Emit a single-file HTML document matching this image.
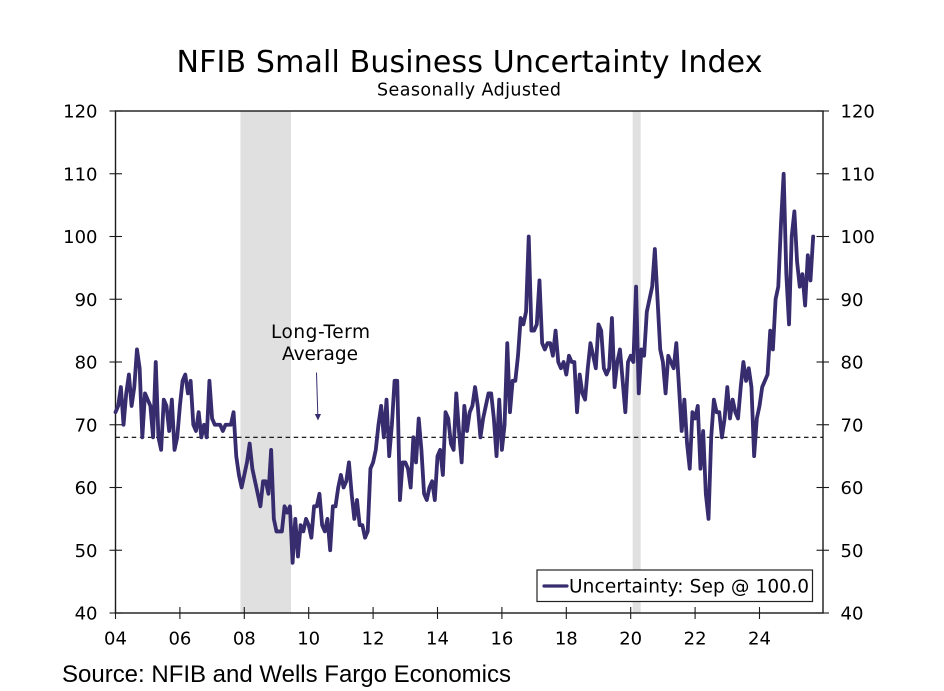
<!DOCTYPE html>
<html lang="en">
<head>
<meta charset="utf-8">
<title>NFIB Small Business Uncertainty Index</title>
<style>
html,body{margin:0;padding:0;background:#fff;}
svg{display:block;}
text{font-family:"DejaVu Sans","Liberation Sans",sans-serif;fill:#000;}
</style>
</head>
<body>
<svg id="chart" width="944" height="691" viewBox="0 0 944 691" xmlns="http://www.w3.org/2000/svg">
  <rect x="0" y="0" width="944" height="691" fill="#fff"/>
  <text x="469.5" y="72" text-anchor="middle" font-size="30" textLength="586" lengthAdjust="spacing">NFIB Small Business Uncertainty Index</text>
  <text x="469" y="95.5" text-anchor="middle" font-size="17.5" textLength="184" lengthAdjust="spacing">Seasonally Adjusted</text>
  <g id="recessions"></g>
  <g id="avg"></g>
  <g id="axes"></g>
  <path id="series" fill="none" stroke="#362c6e" stroke-width="3.8" stroke-linejoin="round" stroke-linecap="round"></path>
  <text x="320.5" y="338" text-anchor="middle" font-size="18.5" textLength="99" lengthAdjust="spacing">Long-Term</text>
  <text x="320" y="360" text-anchor="middle" font-size="18.5" textLength="76" lengthAdjust="spacing">Average</text>
  <line x1="316.5" y1="372.5" x2="317.8" y2="415" stroke="#362c6e" stroke-width="1"/>
  <polygon points="314.8,414 321,414 318,420.5" fill="#362c6e"/>
  <g>
    <rect x="537" y="570" width="275.5" height="31.5" fill="#fff" stroke="#222" stroke-width="1.2"/>
    <line x1="544" y1="586" x2="567" y2="586" stroke="#362c6e" stroke-width="3.2" stroke-linecap="round"/>
    <text x="569" y="592.5" font-size="18.5" textLength="240" lengthAdjust="spacing">Uncertainty: Sep @ 100.0</text>
  </g>
  <text x="62" y="682" font-size="24" textLength="449" lengthAdjust="spacing" style="font-family:'Liberation Sans',sans-serif">Source: NFIB and Wells Fargo Economics</text>
</svg>
<script>
const uncertaintyValues = [
72,73,76,70,75,78,73,76,82,79,68,75,
74,73,68,80,68,66,74,73,69,74,66,68,
73,77,78,75,77,70,69,72,68,70,68,77,
71,70,70,70,69,70,70,70,72,65,62,60,
62,64,67,63,61,59,57,61,61,59,66,55,
53,53,53,57,56,57,48,55,49,54,53,55,
54,52,57,57,59,54,53,55,50,57,57,60,
62,60,61,64,59,55,58,54,54,52,53,63,
64,66,70,73,68,74,65,70,77,77,58,64,
64,63,60,68,64,71,66,59,58,60,61,58,
65,66,62,72,71,67,66,75,69,64,73,69,
72,73,76,73,68,71,73,75,75,71,65,74,
66,70,83,72,77,77,81,87,86,88,100,85,
85,86,93,83,82,83,83,81,85,80,79,80,
78,81,80,80,72,78,75,74,79,83,81,79,
86,85,79,78,79,87,76,80,82,77,72,80,
81,80,92,75,82,81,88,90,92,98,90,82,
80,75,81,80,79,83,76,69,74,67,63,72,
71,73,63,69,59,55,68,74,72,72,68,71,
76,71,74,72,71,76,80,77,79,76,65,71,
73,76,77,78,85,82,90,92,102,110,94,86,
100,104,96,92,94,89,97,93,100
];
const startYear = 2004;
const longTermAverage = 68;
const yTickValues = [40,50,60,70,80,90,100,110,120];
const xTickYears = [2004,2006,2008,2010,2012,2014,2016,2018,2020,2022,2024];
const xTickLabels = ['04','06','08','10','12','14','16','18','20','22','24'];
const recessionStarts = [2007.88,2020.06];
const recessionEnds = [2009.45,2020.31];

const SVGNS = 'http://www.w3.org/2000/svg';
const plotLeft = 115.5, plotRight = 823, plotTop = 111, plotBottom = 613;
const pxPerYear = 32.2;
function xScale(year){ return plotLeft + (year - startYear) * pxPerYear; }
function yScale(v){ return plotBottom - (v - 40) * (plotBottom - plotTop) / 80; }
function mk(tag, parent, attrs){
  const el = document.createElementNS(SVGNS, tag);
  for (const k in attrs) el.setAttribute(k, attrs[k]);
  parent.appendChild(el);
  return el;
}

const recG = document.getElementById('recessions');
recessionStarts.forEach(function(s, i){
  const r = mk('rect', recG, {x: xScale(s), y: plotTop, width: xScale(recessionEnds[i]) - xScale(s), height: plotBottom - plotTop, fill: '#e0e0e0'});
  
  
});

const avgG = document.getElementById('avg');
const avgLine = mk('line', avgG, {x1: plotLeft, x2: plotRight, y1: yScale(longTermAverage), y2: yScale(longTermAverage), stroke: '#000', 'stroke-width': 1.2, 'stroke-dasharray': '4.5 3.6'});



const axG = document.getElementById('axes');
const frame = mk('rect', axG, {x: plotLeft, y: plotTop, width: plotRight - plotLeft, height: plotBottom - plotTop, fill: 'none', stroke: '#1a1a1a', 'stroke-width': 1.4});



yTickValues.forEach(function(v){
  const y = yScale(v);
  const tl = mk('line', axG, {x1: plotLeft - 6, x2: plotLeft + 6.5, y1: y, y2: y, stroke: '#1a1a1a', 'stroke-width': 1.1});
  
  
  const tr = mk('line', axG, {x1: plotRight - 6.5, x2: plotRight + 6, y1: y, y2: y, stroke: '#1a1a1a', 'stroke-width': 1.1});
  
  
  const ll = mk('text', axG, {x: 97.5, y: y + 6.5, 'text-anchor': 'end', 'font-size': 18});
  ll.textContent = String(v);
  
  
  const lr = mk('text', axG, {x: 840.5, y: y + 6.5, 'font-size': 18});
  lr.textContent = String(v);
  
  
});

xTickYears.forEach(function(yr, i){
  const x = xScale(yr);
  const t = mk('line', axG, {x1: x, x2: x, y1: plotBottom - 6, y2: plotBottom + 6, stroke: '#1a1a1a', 'stroke-width': 1.1});
  
  
  const l = mk('text', axG, {x: x, y: 644.5, 'text-anchor': 'middle', 'font-size': 18});
  l.textContent = xTickLabels[i];
  
  
});

let d = '';
uncertaintyValues.forEach(function(v, i){
  d += (i ? 'L' : 'M') + xScale(startYear + i / 12).toFixed(2) + ' ' + yScale(v).toFixed(2);
});
document.getElementById('series').setAttribute('d', d);
</script>
</body>
</html>
